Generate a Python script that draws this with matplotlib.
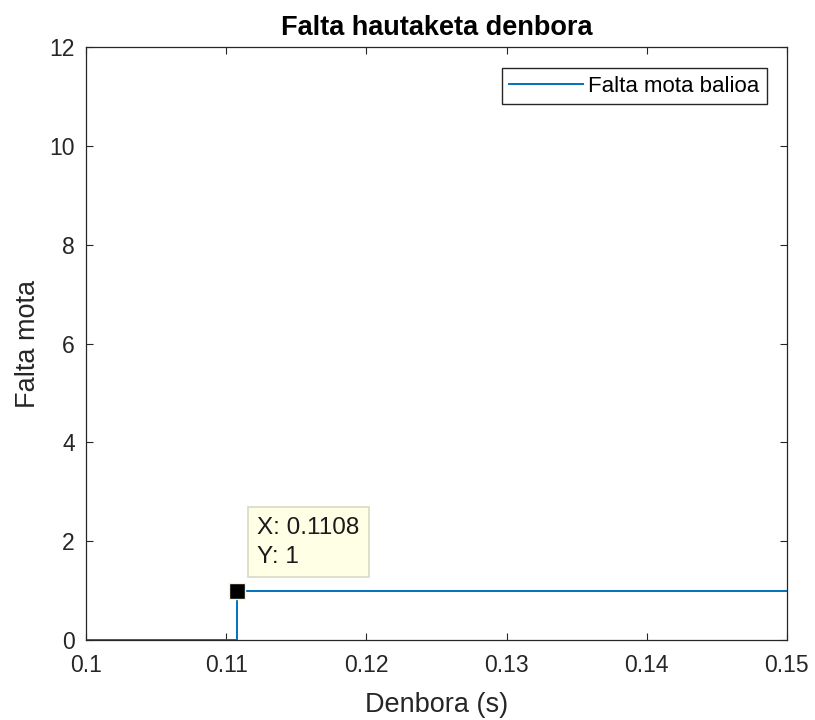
import matplotlib.pyplot as plt

# falta mota seinalea denboran zehar (urrats bakarra)
denbora = [0.1, 0.1108, 0.1108, 0.15]
falta_mota = [0, 0, 1, 1]
tip_x = 0.1108
tip_y = 1

plt.rcParams['font.family'] = ['Liberation Sans', 'DejaVu Sans']

fig = plt.figure(figsize=(8.15, 7.2), dpi=100)
ax = fig.add_axes([0.1055, 0.111, 0.86, 0.8237])

ax.plot(denbora, falta_mota, color='#0072BD', lw=1.4, label='Falta mota balioa')
ax.plot([tip_x], [tip_y], marker='s', ms=12, mfc='black', mec='#F5F5DC', mew=1, ls='none')

# datu-puntuaren etiketa
ax.annotate(f'X: {tip_x}\nY: {tip_y}', xy=(tip_x, tip_y), xytext=(20, 23),
            textcoords='offset pixels', ha='left', va='bottom', fontsize=17.5,
            linespacing=1.4, color='#1a1a1a',
            bbox=dict(boxstyle='square,pad=0.4', fc='#FFFFE6', ec='#DCDCC8', lw=1.3))

ax.set_xlim(0.1, 0.15)
ax.set_ylim(0, 12)
ax.set_xticks([0.1, 0.11, 0.12, 0.13, 0.14, 0.15])
ax.set_xticklabels(['0.1', '0.11', '0.12', '0.13', '0.14', '0.15'])
ax.set_yticks(range(0, 13, 2))
ax.tick_params(direction='in', top=True, right=True, length=5, width=0.8,
               labelsize=16.5, colors='#262626')
ax.tick_params(axis='x', pad=10)
ax.tick_params(axis='y', pad=8)
for s in ax.spines.values():
    s.set_color('#262626')
    s.set_linewidth(0.9)

ax.set_title('Falta hautaketa denbora', fontsize=19.5, fontweight='bold', color='black', pad=9)
ax.set_xlabel('Denbora (s)', fontsize=19.5, color='#262626', labelpad=11)
ax.set_ylabel('Falta mota', fontsize=19.5, color='#262626', labelpad=6)

leg = ax.legend(loc='upper right', fontsize=16, handlelength=3.3, handletextpad=0.25,
                fancybox=False, edgecolor='#262626', framealpha=1, borderpad=0.33,
                borderaxespad=0, bbox_to_anchor=(0.9715, 0.964))
leg.get_frame().set_linewidth(1.0)

plt.savefig('out.png', dpi=100, facecolor='white')
plt.close()
